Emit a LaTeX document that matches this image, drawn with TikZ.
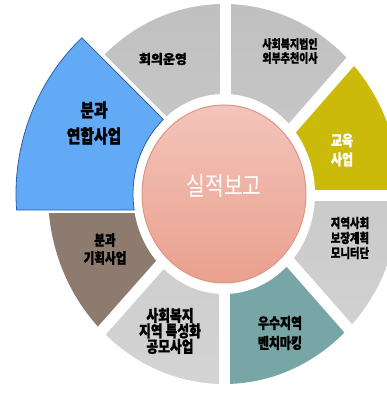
\documentclass[tikz,border=0pt]{standalone}
\usepackage{fontspec}
\usepackage{tikz}
\usepackage{xcolor}
\newfontfamily\krfont[BoldFeatures={FakeBold=1.2}]{Noto Sans CJK KR}
\newfontfamily\krnarrow[FakeStretch=0.8, BoldFeatures={FakeBold=1.2}]{Noto Sans CJK KR}
\definecolor{segyellow}{RGB}{204,186,10}
\definecolor{segteal}{RGB}{120,165,165}
\definecolor{segbrown}{RGB}{140,123,110}
\definecolor{segblue}{RGB}{98,170,245}
\definecolor{segblueline}{RGB}{45,95,165}
\definecolor{seggraytop}{RGB}{192,192,192}
\definecolor{seggraybot}{RGB}{212,212,212}
\definecolor{pinktop}{RGB}{243,196,186}
\definecolor{pinkbot}{RGB}{234,160,142}
\definecolor{pinkrim}{RGB}{222,148,132}

\begin{document}
\begin{tikzpicture}[
                x=1pt, y=1pt,
                grayseg/.style={top color=seggraytop, bottom color=seggraybot},
                gapline/.style={white, line width=11pt},
                seglabel/.style={align=center, inner sep=0pt, text=black}
                ]
                \useasboundingbox (0,0) rectangle (387,396);

                %% Centre and borders between the sections
                \coordinate (c) at (224,202);
                \coordinate (a1) at (225,262);   \coordinate (b1) at (225,420);
                \coordinate (a2) at (190,253);   \coordinate (b2) at (30,413);
                \coordinate (a3) at (260,231);   \coordinate (b3) at (420,414);
                \coordinate (a4) at (260,200);   \coordinate (b4) at (420,200);
                \coordinate (a5) at (260,168);   \coordinate (b5) at (420,-14);
                \coordinate (a6) at (224,150);   \coordinate (b6) at (224,-20);
                \coordinate (a7) at (190,165);   \coordinate (b7) at (20,-27);
                \coordinate (a8) at (190,184.5); \coordinate (b8) at (-20,184.5);

                %% Sections
                \begin{scope}
                \clip (a4) -- (b4) -- (b3) -- (a3) -- (c) -- cycle;
                \fill[segyellow] (c) ellipse [x radius=176, y radius=190];
                \end{scope}
                \begin{scope}
                \clip (a3) -- (b3) -- (b1) -- (a1) -- (c) -- cycle;
                \shade[grayseg] (c) ellipse [x radius=176, y radius=190];
                \end{scope}
                \begin{scope}
                \clip (a1) -- (b1) -- (b2) -- (a2) -- (c) -- cycle;
                \shade[grayseg] (c) ellipse [x radius=176, y radius=190];
                \end{scope}
                \begin{scope}
                \clip (a8) -- (b8) -- (b7) -- (a7) -- (c) -- cycle;
                \fill[segbrown] (c) ellipse [x radius=176, y radius=190];
                \end{scope}
                \begin{scope}
                \clip (a7) -- (b7) -- (b6) -- (a6) -- (c) -- cycle;
                \shade[grayseg] (c) ellipse [x radius=176, y radius=190];
                \end{scope}
                \begin{scope}
                \clip (a6) -- (b6) -- (b5) -- (a5) -- (c) -- cycle;
                \fill[segteal] (c) ellipse [x radius=176, y radius=190];
                \end{scope}
                \begin{scope}
                \clip (a5) -- (b5) -- (b4) -- (a4) -- (c) -- cycle;
                \shade[grayseg] (c) ellipse [x radius=176, y radius=190];
                \end{scope}

                % gaps
                \foreach \i in {1,3,4,5,6,7}
                        \draw[gapline] (a\i) -- (b\i);
                \draw[gapline, line width=4pt] (a2) -- (b2);
                \draw[gapline, line width=3pt] (a8) -- (b8);
                \fill[white] (c) ellipse [x radius=91, y radius=100];

                %% Pulled out section
                \filldraw[fill=segblue, draw=segblueline, line width=0.8pt, line join=round]
                        (c) ++(133.1:208 and 214)
                        arc[start angle=133.1, end angle=184.3, x radius=208, y radius=214]
                        -- (134.2,186)
                        arc[start angle=189.2, end angle=131.8, x radius=91, y radius=100]
                        -- cycle;

                %% Middle circle
                \shade[top color=pinktop, bottom color=pinkbot] (c) ellipse [x radius=82, y radius=89];
                \draw[pinkrim, line width=1pt] (c) ellipse [x radius=82, y radius=89];

                %% Labels
                \node[text=white, font=\krnarrow\fontsize{25.5}{27}\selectfont] (report) at (224,210) {실적보고};
                \node[seglabel, font=\krfont\bfseries\fontsize{13}{15}\selectfont] (hoeui) at (163,337) {회의운영};
                \node[seglabel, font=\krnarrow\bfseries\fontsize{12.5}{14}\selectfont] (beopin) at (290,345) {사회복지법인\\외부추천이사};
                \node[seglabel, text=white, font=\krnarrow\bfseries\fontsize{15}{19}\selectfont] (gyoyuk) at (342,246) {교육\\사업};
                \node[seglabel, font=\krnarrow\bfseries\fontsize{13}{15}\selectfont] (monitor) at (350,158) {지역사회\\보장계획\\모니터단};
                \node[seglabel, font=\krnarrow\bfseries\fontsize{15}{20}\selectfont] (bench) at (280,63) {우수지역\\벤치마킹};
                \node[seglabel, font=\krnarrow\bfseries\fontsize{16}{15.5}\selectfont] (gongmo) at (170,65) {사회복지\\지역 특성화\\공모사업};
                \node[seglabel, font=\krnarrow\bfseries\fontsize{14.5}{18}\selectfont] (gihoek) at (105,147) {분과\\기획사업};
                \node[seglabel, font=\krnarrow\bfseries\fontsize{18.5}{26}\selectfont] (yeonhap) at (94,273) {분과\\연합사업};
\end{tikzpicture}
\end{document}
